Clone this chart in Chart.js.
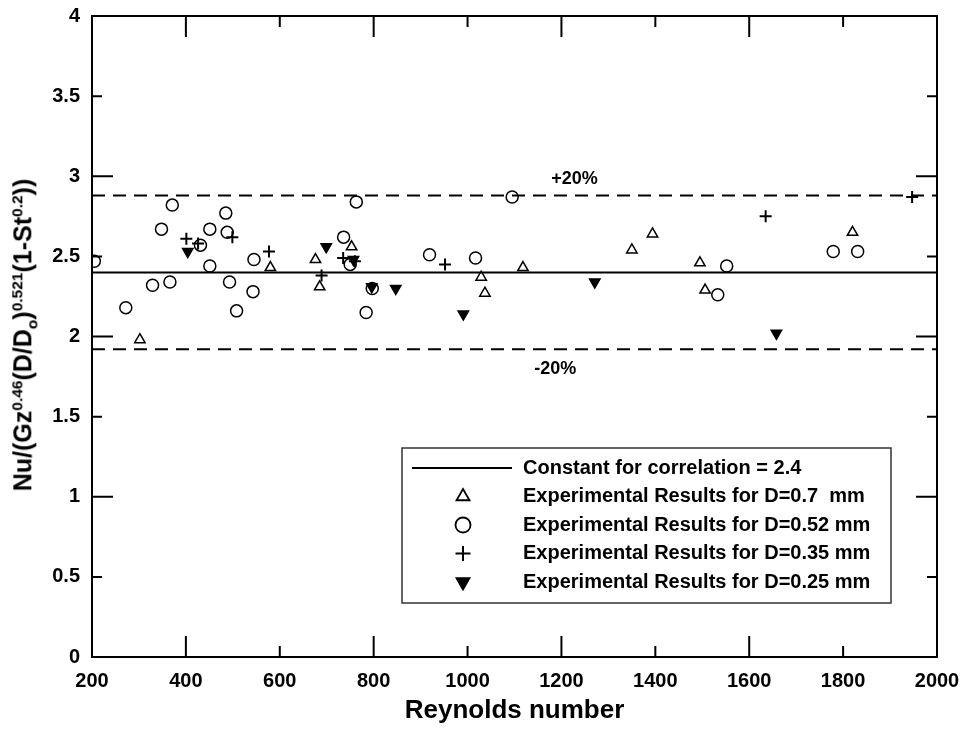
<!DOCTYPE html>
<html>
<head>
<meta charset="utf-8">
<script src="https://cdn.jsdelivr.net/npm/chart.js@4.4.1/dist/chart.umd.min.js"></script>
<style>
  body { margin: 0; background: #fff; }
  #wrap { position: relative; width: 964px; height: 732px; }
  #yTitle {
    position: absolute;
    left: 25px;
    top: 335px;
    transform: translate(-50%, -50%) rotate(-90deg);
    font: bold 25px "Liberation Sans", Arial, sans-serif;
    white-space: nowrap;
    color: #000;
  }
  #yTitle sup, #yTitle sub { font-size: 0.62em; }
</style>
</head>
<body>
<div id="wrap">
  <canvas id="grafico" width="964" height="732"></canvas>
  <div id="yTitle">Nu/(Gz<sup>0.46</sup>(D/D<sub>o</sub>)<sup>0.521</sup>(1-St<sup>0.2</sup>))</div>
</div>
<script>
// Reynolds number range and tick labels
const xTicks = [200, 400, 600, 800, 1000, 1200, 1400, 1600, 1800, 2000];
const yTicks = [0, 0.5, 1, 1.5, 2, 2.5, 3, 3.5, 4];

// correlation constant and +/-20% band
const lineRe = [200, 2000];
const constante = 2.4;
const limiteSup = 2.88;
const limiteInf = 1.92;

// D = 0.7 mm (open triangles)
const d07Re = [302, 580, 676, 685, 753, 1029, 1037, 1118, 1350, 1394, 1495, 1506, 1820];
const d07Nu = [1.98, 2.43, 2.48, 2.31, 2.56, 2.37, 2.27, 2.43, 2.54, 2.64, 2.46, 2.29, 2.65];

// D = 0.52 mm (open circles)
const d052Re = [205, 272, 329, 348, 366, 371, 431, 451, 451, 485, 488, 493, 508, 543, 545,
  736, 750, 763, 784, 797, 919, 1017, 1095, 1533, 1552, 1779, 1831];
const d052Nu = [2.47, 2.18, 2.32, 2.67, 2.34, 2.82, 2.57, 2.67, 2.44, 2.77, 2.65, 2.34, 2.16, 2.28, 2.48,
  2.62, 2.45, 2.84, 2.15, 2.30, 2.51, 2.49, 2.87, 2.26, 2.44, 2.53, 2.53];

// D = 0.35 mm (crosses)
const d035Re = [401, 426, 499, 577, 689, 735, 760, 952, 1635, 1947];
const d035Nu = [2.61, 2.58, 2.62, 2.53, 2.38, 2.49, 2.47, 2.45, 2.75, 2.87];

// D = 0.25 mm (filled down triangles)
const d025Re = [404, 699, 757, 796, 847, 991, 1271, 1658];
const d025Nu = [2.53, 2.56, 2.48, 2.31, 2.30, 2.14, 2.34, 2.02];

const legendaTextos = [
  "Constant for correlation = 2.4",
  "Experimental Results for D=0.7  mm",
  "Experimental Results for D=0.52 mm",
  "Experimental Results for D=0.35 mm",
  "Experimental Results for D=0.25 mm"
];

const FONTE = '"Liberation Sans", Arial, sans-serif';

function pares(xs, ys) {
  return xs.map((x, i) => ({ x: x, y: ys[i] }));
}

function linha(valor) {
  return lineRe.map((x) => ({ x: x, y: valor }));
}

const estilos = [
  { pointStyle: "triangle", radius: 6, rotation: 0, fill: false },
  { pointStyle: "circle", radius: 6, rotation: 0, fill: false },
  { pointStyle: "cross", radius: 6, rotation: 0, fill: false },
  { pointStyle: "triangle", radius: 6, rotation: 180, fill: true }
];

function serie(label, xs, ys, est) {
  return {
    type: "scatter",
    label: label,
    data: pares(xs, ys),
    pointStyle: est.pointStyle,
    pointRadius: est.radius,
    pointRotation: est.rotation,
    borderColor: "#000",
    backgroundColor: est.fill ? "#000" : "rgba(0,0,0,0)",
    borderWidth: est.pointStyle === "cross" ? 2 : 1.5,
    showLine: false
  };
}

// frame, inward ticks, legend box and +/-20% labels
const molduraPlugin = {
  id: "moldura",
  afterDatasetsDraw(chart) {
    const ctx = chart.ctx;
    const a = chart.chartArea;
    const sx = chart.scales.x;
    const sy = chart.scales.y;

    ctx.save();
    ctx.strokeStyle = "#000";
    ctx.lineWidth = 2;
    ctx.strokeRect(a.left, a.top, a.right - a.left, a.bottom - a.top);

    xTicks.forEach((v) => {
      if (v === xTicks[0] || v === xTicks[xTicks.length - 1]) return;
      const px = sx.getPixelForValue(v);
      const len = v % 400 === 0 ? 21 : 11;
      ctx.beginPath();
      ctx.moveTo(px, a.bottom);
      ctx.lineTo(px, a.bottom - len);
      ctx.moveTo(px, a.top);
      ctx.lineTo(px, a.top + len);
      ctx.stroke();
    });

    yTicks.forEach((v) => {
      if (v === yTicks[0] || v === yTicks[yTicks.length - 1]) return;
      const py = sy.getPixelForValue(v);
      const len = Number.isInteger(v) ? 21 : 10;
      ctx.beginPath();
      ctx.moveTo(a.left, py);
      ctx.lineTo(a.left + len, py);
      ctx.moveTo(a.right, py);
      ctx.lineTo(a.right - len, py);
      ctx.stroke();
    });

    // band labels
    ctx.fillStyle = "#000";
    ctx.font = "bold 18px " + FONTE;
    ctx.textAlign = "center";
    ctx.textBaseline = "middle";
    ctx.fillText("+20%", sx.getPixelForValue(1228), sy.getPixelForValue(2.98));
    ctx.fillText("-20%", sx.getPixelForValue(1187), sy.getPixelForValue(1.80));

    // legend
    const lx = a.left + 310;
    const ly = a.top + 432;
    const lw = 489;
    const lh = 155;
    ctx.fillStyle = "#fff";
    ctx.fillRect(lx, ly, lw, lh);
    ctx.strokeStyle = "#333";
    ctx.lineWidth = 1.5;
    ctx.strokeRect(lx, ly, lw, lh);

    const passo = 28.5;
    const y0 = ly + 20;
    ctx.strokeStyle = "#000";
    ctx.lineWidth = 2;
    ctx.beginPath();
    ctx.moveTo(lx + 10, y0);
    ctx.lineTo(lx + 110, y0);
    ctx.stroke();

    estilos.forEach((est, i) => {
      ctx.lineWidth = est.pointStyle === "cross" ? 2 : 1.8;
      ctx.strokeStyle = "#000";
      ctx.fillStyle = est.fill ? "#000" : "rgba(0,0,0,0)";
      Chart.helpers.drawPoint(ctx, {
        pointStyle: est.pointStyle,
        radius: 7.5,
        rotation: est.rotation,
        borderWidth: ctx.lineWidth
      }, lx + 61, y0 + passo * (i + 1));
    });

    ctx.fillStyle = "#000";
    ctx.font = "bold 20px " + FONTE;
    ctx.textAlign = "left";
    ctx.textBaseline = "middle";
    legendaTextos.forEach((t, i) => {
      ctx.fillText(t, lx + 121, y0 + passo * i);
    });
    ctx.restore();
  }
};

new Chart(document.getElementById("grafico"), {
  data: {
    datasets: [
      {
        type: "line",
        label: "Constant for correlation = 2.4",
        data: linha(constante),
        borderColor: "#000",
        borderWidth: 2,
        pointRadius: 0
      },
      {
        type: "line",
        label: "+20%",
        data: linha(limiteSup),
        borderColor: "#000",
        borderWidth: 2,
        borderDash: [13, 8],
        pointRadius: 0
      },
      {
        type: "line",
        label: "-20%",
        data: linha(limiteInf),
        borderColor: "#000",
        borderWidth: 2,
        borderDash: [13, 8],
        pointRadius: 0
      },
      serie("Experimental Results for D=0.7  mm", d07Re, d07Nu, estilos[0]),
      serie("Experimental Results for D=0.52 mm", d052Re, d052Nu, estilos[1]),
      serie("Experimental Results for D=0.35 mm", d035Re, d035Nu, estilos[2]),
      serie("Experimental Results for D=0.25 mm", d025Re, d025Nu, estilos[3])
    ]
  },
  options: {
    responsive: false,
    animation: false,
    layout: {
      padding: { left: 0, top: 16, right: 27, bottom: 0 }
    },
    plugins: {
      legend: { display: false },
      tooltip: { enabled: false }
    },
    scales: {
      x: {
        type: "linear",
        min: 200,
        max: 2000,
        afterBuildTicks: (scale) => {
          scale.ticks = xTicks.map((v) => ({ value: v }));
        },
        afterFit: (scale) => {
          scale.height = 75;
          scale.paddingLeft = 0;
          scale.paddingRight = 0;
        },
        grid: { display: false, drawTicks: false },
        border: { display: false },
        ticks: {
          color: "#000",
          padding: 12,
          maxRotation: 0,
          font: { family: FONTE, size: 20, weight: "bold" },
          callback: (v) => String(v)
        },
        title: {
          display: true,
          text: "Reynolds number",
          color: "#000",
          font: { family: FONTE, size: 26, weight: "bold" },
          padding: { top: 0, bottom: 6 }
        }
      },
      y: {
        type: "linear",
        min: 0,
        max: 4,
        afterBuildTicks: (scale) => {
          scale.ticks = yTicks.map((v) => ({ value: v }));
        },
        afterFit: (scale) => {
          scale.width = 92;
          scale.paddingTop = 0;
          scale.paddingBottom = 0;
        },
        grid: { display: false, drawTicks: false },
        border: { display: false },
        ticks: {
          color: "#000",
          padding: 12,
          font: { family: FONTE, size: 20, weight: "bold" },
          callback: (v) => String(v)
        }
      }
    }
  },
  plugins: [molduraPlugin]
});
</script>
</body>
</html>
